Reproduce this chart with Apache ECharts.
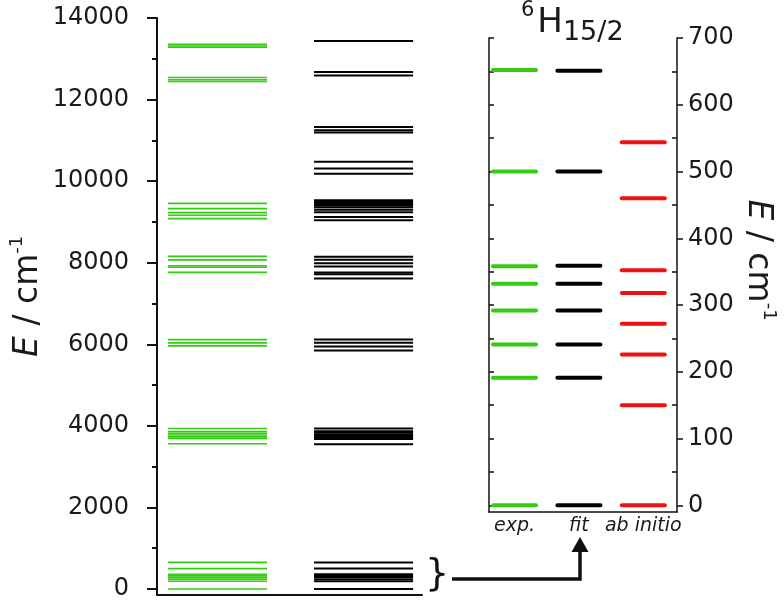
<!DOCTYPE html>
<html>
<head>
<meta charset="utf-8">
<script src="https://cdn.jsdelivr.net/npm/echarts@6/dist/echarts.min.js"></script>
<style>html,body{margin:0;padding:0;background:#fff;}#c{width:784px;height:601px;}</style>
</head>
<body>
<div id="c"></div>
<script>
// ---- data (energies in cm^-1) ----
const insetCategories = ['exp.', 'fit', 'ab initio'];
// ground multiplet 6H15/2 (inset)
const expGround = [0, 191, 241, 292, 332, 358, 500, 652];
const fitGround = [0, 191, 241, 292, 332, 359, 500, 651];
const abInitioGround = [0, 150, 226, 272, 318, 352, 460, 544];
// excited multiplets (left panel)
const expExcited = [3560, 3690, 3730, 3775, 3820, 3860, 3934,
  5960, 6035, 6115,
  7762, 7890, 7925, 8070, 8155,
  9082, 9162, 9228, 9326, 9455,
  12444, 12485, 12542,
  13283, 13315, 13357];
const fitExcited = [3550, 3675, 3710, 3750, 3790, 3830, 3870, 3934,
  5847, 5944, 6035, 6116,
  7614, 7720, 7762, 7909, 7989, 8070, 8144,
  9040, 9121, 9240, 9300, 9360, 9400, 9440, 9490, 9530,
  10181, 10310, 10474,
  11190, 11250, 11329,
  12590, 12673,
  13437];
const leftTicks = [0, 2000, 4000, 6000, 8000, 10000, 12000, 14000];
const leftMinorTicks = [1000, 3000, 5000, 7000, 9000, 11000, 13000];
const insetTicks = [0, 100, 200, 300, 400, 500, 600, 700];
const insetMinorTicks = [50, 150, 250, 350, 450, 550, 650];
const insetAllTicks = [0, 50, 100, 150, 200, 250, 300, 350, 400, 450, 500, 550, 600, 650, 700];

const GREEN = '#33cc11', BLACK = '#000000', RED = '#ee1111';
const FONT = 'DejaVu Sans';
const TXT = '#1a1a1a';

const leftExp = expGround.concat(expExcited).map(e => [0, e]);
const leftFit = fitGround.concat(fitExcited).map(e => [1, e]);
const insetExp = expGround.map(e => [0, e]);
const insetFit = fitGround.map(e => [1, e]);
const insetAb = abInitioGround.map(e => [2, e]);

function levelRender(half, color, lw, cap) {
  return function (params, api) {
    const x = api.value(0), e = api.value(1);
    const p1 = api.coord([x - half, e]);
    const p2 = api.coord([x + half, e]);
    return {
      type: 'line',
      shape: { x1: p1[0], y1: p1[1], x2: p2[0], y2: p2[1] },
      style: { stroke: color, lineWidth: lw, lineCap: cap }
    };
  };
}
const plain = v => String(Math.round(v));

function nameStyle(pad) {
  return {
    fontFamily: FONT, fontSize: 33, lineHeight: 40, color: TXT, padding: pad,
    rich: {
      i: { fontFamily: FONT, fontSize: 33, fontStyle: 'italic', lineHeight: 40, color: TXT },
      s: { fontFamily: FONT, fontSize: 18, lineHeight: 18, verticalAlign: 'top', color: TXT }
    }
  };
}

const chart = echarts.init(document.getElementById('c'), null, { renderer: 'canvas' });
const axisCol = '#111';
const option = {
  backgroundColor: '#fff',
  animation: false,
  title: {
    left: 521, top: 0, padding: 0,
    text: '{s|6}{h|H}{b|15/2}',
    textStyle: {
      fontFamily: FONT, color: TXT, fontWeight: 'normal',
      rich: {
        s: { fontFamily: FONT, fontSize: 21, lineHeight: 22, verticalAlign: 'top', fontWeight: 'normal', color: TXT, padding: [0, 3, 0, 0] },
        h: { fontFamily: FONT, fontSize: 34, lineHeight: 46, fontWeight: 'normal', color: TXT },
        b: { fontFamily: FONT, fontSize: 27, lineHeight: 26, verticalAlign: 'bottom', fontWeight: 'normal', color: TXT }
      }
    }
  },
  grid: [
    { left: 157, top: 18, width: 265, height: 578 },
    { left: 489, top: 38, width: 188, height: 474 }
  ],
  xAxis: [
    { gridIndex: 0, type: 'value', min: -0.414, max: 1.40,
      axisLine: { show: true, onZero: false, lineStyle: { color: axisCol, width: 2 } },
      axisTick: { show: false }, axisLabel: { show: false }, splitLine: { show: false } },
    { gridIndex: 1, type: 'value', min: -0.396, max: 2.523,
      axisLine: { show: true, onZero: false, lineStyle: { color: axisCol, width: 1.5 } },
      axisTick: { show: false }, splitLine: { show: false },
      axisLabel: { show: true, customValues: [0, 1, 2], margin: 5,
        formatter: v => insetCategories[Math.round(v)] || '',
        fontFamily: FONT, fontSize: 19, fontStyle: 'italic', color: TXT } }
  ],
  yAxis: [
    { gridIndex: 0, type: 'value', min: -140, max: 14000, position: 'left',
      axisLine: { show: true, onZero: false, lineStyle: { color: axisCol, width: 2 } },
      axisTick: { show: true, customValues: leftTicks, length: 10, lineStyle: { color: axisCol, width: 2 } },
      axisLabel: { show: true, customValues: leftTicks, formatter: plain, margin: 28, fontFamily: FONT, fontSize: 24, color: TXT },
      splitLine: { show: false },
      name: '{i|E} / cm{s|-1}', nameLocation: 'middle', nameGap: 103,
      nameTextStyle: nameStyle([0, 0, 0, 20]) },
    { gridIndex: 0, type: 'value', min: -140, max: 14000, position: 'left',
      axisLine: { show: false, onZero: false },
      axisTick: { show: true, customValues: leftMinorTicks, length: 5, lineStyle: { color: axisCol, width: 2 } },
      axisLabel: { show: false }, splitLine: { show: false } },
    { gridIndex: 1, type: 'value', min: -10, max: 700, position: 'left',
      axisLine: { show: true, onZero: false, lineStyle: { color: axisCol, width: 1.5 } },
      axisTick: { show: true, inside: true, customValues: insetAllTicks, length: 5, lineStyle: { color: axisCol, width: 1.5 } },
      axisLabel: { show: false }, splitLine: { show: false } },
    { gridIndex: 1, type: 'value', min: -10, max: 700, position: 'right',
      axisLine: { show: true, onZero: false, lineStyle: { color: axisCol, width: 1.5 } },
      axisTick: { show: true, customValues: insetTicks, length: 6, lineStyle: { color: axisCol, width: 1.5 } },
      axisLabel: { show: true, customValues: insetTicks, formatter: plain, margin: 11, fontFamily: FONT, fontSize: 24, color: TXT },
      splitLine: { show: false },
      name: '{i|E} / cm{s|-1}', nameLocation: 'middle', nameGap: 58, nameRotate: -90,
      nameTextStyle: nameStyle([0, 30, 0, 0]) },
    { gridIndex: 1, type: 'value', min: -10, max: 700, position: 'right',
      axisLine: { show: false, onZero: false },
      axisTick: { show: true, inside: true, customValues: insetMinorTicks, length: 5, lineStyle: { color: axisCol, width: 1.5 } },
      axisLabel: { show: false }, splitLine: { show: false } }
  ],
  series: [
    { type: 'custom', xAxisIndex: 0, yAxisIndex: 0, data: leftExp, renderItem: levelRender(0.339, GREEN, 1.6, 'butt') },
    { type: 'custom', xAxisIndex: 0, yAxisIndex: 0, data: leftFit, renderItem: levelRender(0.339, BLACK, 2, 'butt') },
    { type: 'custom', xAxisIndex: 1, yAxisIndex: 2, data: insetExp, renderItem: levelRender(0.334, GREEN, 4, 'round') },
    { type: 'custom', xAxisIndex: 1, yAxisIndex: 2, data: insetFit, renderItem: levelRender(0.334, BLACK, 4, 'round') },
    { type: 'custom', xAxisIndex: 1, yAxisIndex: 2, data: insetAb, renderItem: levelRender(0.334, RED, 4, 'round') }
  ],
  graphic: [
    { type: 'text', left: 425, top: 556, style: { text: '}', font: '38px "DejaVu Sans"', fill: '#111' } },
    { type: 'polyline', shape: { points: [[452, 579], [580, 579], [580, 550]] }, style: { stroke: '#111', lineWidth: 3.5, fill: null } },
    { type: 'polygon', shape: { points: [[571.5, 552], [580, 537], [588.5, 552]] }, style: { fill: '#111' } }
  ]
};
chart.setOption(option);
</script>
</body>
</html>
